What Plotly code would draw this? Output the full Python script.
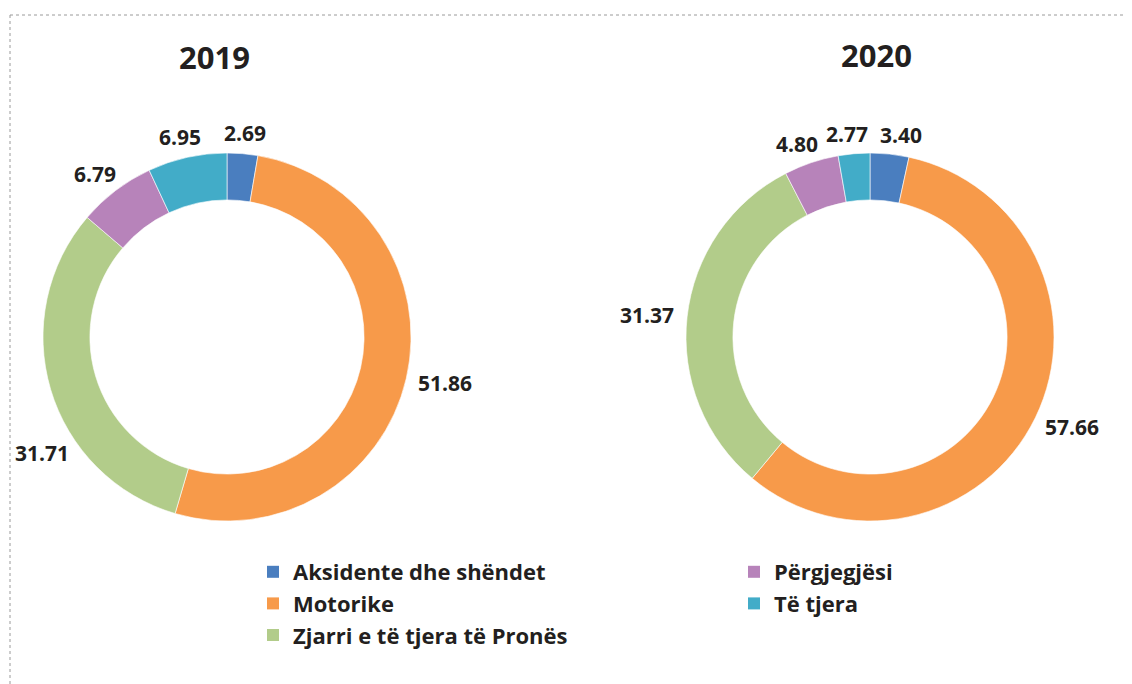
import math
import plotly.graph_objects as go

categories = ["Aksidente dhe shëndet", "Motorike", "Zjarri e të tjera të Pronës", "Përgjegjësi", "Të tjera"]
values_2019 = [2.69, 51.86, 31.71, 6.79, 6.95]
values_2020 = [3.40, 57.66, 31.37, 4.80, 2.77]
years = ["2019", "2020"]
colors = ["#4A7EBF", "#F79A4A", "#B2CC8A", "#B783BA", "#42ACC8"]

FONT = "Open Sans"
TXT = "#231F20"
PAGE_OFF = 8                      # default page body margin
W, H = 1132 - PAGE_OFF, 684 - PAGE_OFF


def fx(xp):
    return (xp - PAGE_OFF) / W


def fy(yp):
    return 1 - (yp - PAGE_OFF) / H


# pie placement (page pixels): centre and outer radius
pie_centres = [(227, 337), (870, 337)]
R = 184

fig = go.Figure()
for vals, (cx, cy) in zip([values_2019, values_2020], pie_centres):
    fig.add_trace(go.Pie(
        labels=categories, values=vals, sort=False, direction="clockwise", rotation=0,
        hole=0.745, domain=dict(x=[fx(cx - R), fx(cx + R)], y=[fy(cy + R), fy(cy - R)]),
        showlegend=False, textinfo="none",
        marker=dict(colors=colors, line=dict(color="rgba(255,255,255,0.6)", width=1)),
        hovertemplate="%{label}: %{value:.2f}<extra></extra>",
    ))


# data labels placed outside each slice at its mid angle (best-fit style)
def text_w(s):
    return sum(6.5 if ch == "." else 12.5 for ch in s)


TH, GAP = 17, 12
annotations = []


def place(cx, cy, theta, w):
    ux, uy = math.sin(math.radians(theta)), -math.cos(math.radians(theta))
    x = cx + ux * (R + GAP) + ux * w / 2
    y = cy + uy * (R + GAP) + uy * TH / 2
    return x, y


def overlap(a, b):
    return abs(a[0] - b[0]) < (a[2] + b[2]) / 2 + 4 and abs(a[1] - b[1]) < TH + 2


for vals, (cx, cy) in zip([values_2019, values_2020], pie_centres):
    total = sum(vals)
    cum = 0
    thetas, texts = [], []
    for v in vals:
        thetas.append((cum + v / 2) / total * 360)
        texts.append(f"{v:.2f}")
        cum += v
    # keep labels inside the page
    for i, t in enumerate(thetas):
        w = text_w(texts[i])
        for _ in range(120):
            x, y = place(cx, cy, thetas[i], w)
            if 14 + w / 2 <= x <= 1132 - 14 - w / 2:
                break
            thetas[i] += -1 if 90 < thetas[i] % 360 < 270 and (thetas[i] % 360) > 180 else 1
            if 0 < thetas[i] % 360 < 180 and not (14 + w / 2 <= x <= 1132 - 14 - w / 2):
                thetas[i] += 0
    # spread colliding labels apart
    for _ in range(60):
        boxes = [(*place(cx, cy, t, text_w(s)), text_w(s)) for t, s in zip(thetas, texts)]
        moved = False
        n = len(boxes)
        for i in range(n):
            j = (i + 1) % n
            if overlap(boxes[i], boxes[j]):
                thetas[i] -= 1
                thetas[j] += 1
                moved = True
        if not moved:
            break
    for t, s in zip(thetas, texts):
        x, y = place(cx, cy, t, text_w(s))
        annotations.append(dict(text=s, x=fx(x), y=fy(y), xref="paper", yref="paper",
                                showarrow=False, xanchor="center", yanchor="middle",
                                font=dict(family=FONT, size=21, color=TXT, weight="bold")))

# legend entries
for i, (cat, col) in enumerate(zip(categories, colors)):
    fig.add_trace(go.Scatter(
        x=[None], y=[None], mode="markers", name=cat,
        marker=dict(symbol="square", size=12, color=col),
        legend="legend" if i < 3 else "legend2",
    ))

for text, (xp, yp) in zip(years, [(214, 57), (876, 55)]):
    annotations.append(dict(text=text, x=fx(xp), y=fy(yp), xref="paper", yref="paper",
                            showarrow=False, xanchor="center", yanchor="middle",
                            font=dict(family=FONT, size=31, color=TXT, weight="bold")))

legend_font = dict(family=FONT, size=22, color=TXT, weight="bold")
fig.update_layout(
    width=W, height=H,
    margin=dict(l=0, r=0, t=0, b=0, autoexpand=False),
    paper_bgcolor="white", plot_bgcolor="white",
    xaxis=dict(visible=False), yaxis=dict(visible=False),
    annotations=annotations,
    legend=dict(x=fx(253), y=fy(551), xanchor="left", yanchor="top", font=legend_font,
                bgcolor="rgba(0,0,0,0)", tracegroupgap=0),
    legend2=dict(x=fx(734), y=fy(551), xanchor="left", yanchor="top", font=legend_font,
                 bgcolor="rgba(0,0,0,0)", tracegroupgap=0),
    shapes=[
        dict(type="line", xref="paper", yref="paper", x0=fx(10), x1=1, y0=fy(15), y1=fy(15),
             line=dict(color="#9A9A9A", width=1, dash="dot")),
        dict(type="line", xref="paper", yref="paper", x0=fx(10), x1=fx(10), y0=0, y1=fy(15),
             line=dict(color="#9A9A9A", width=1, dash="dot")),
    ],
)

fig.write_html("out.html")
